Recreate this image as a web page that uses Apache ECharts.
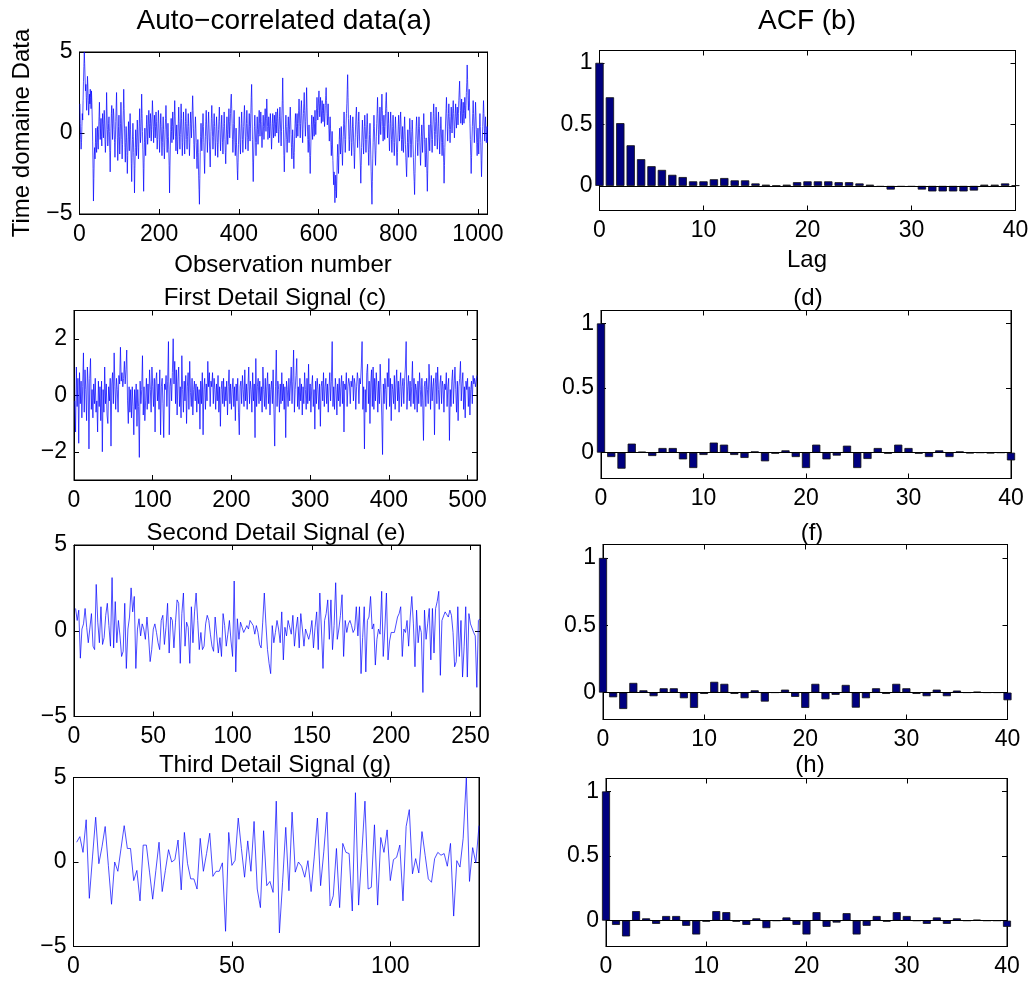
<!DOCTYPE html>
<html>
<head>
<meta charset="utf-8">
<script src="https://cdn.jsdelivr.net/npm/echarts@6/dist/echarts.min.js"></script>
<style>
  html, body { margin: 0; padding: 0; background: #fff; }
  #chart { width: 1034px; height: 982px; }
</style>
</head>
<body>
<div id="chart"></div>
<script>
// (a) auto-correlated series, 1024 samples
const autoCorrelated = [
  1.8,0.6,-0.4,-1.0,-0.6,0.4,1.2,0.8,2.0,3.2,4.1,5.0,4.3,3.4,2.6,3.0,2.2,1.4,2.3,3.5,2.9,2.0,1.1,1.6,2.4,1.8,2.7,2.2,1.5,2.6,1.9,0.8,
  -0.5,-2.2,-4.2,-2.8,-1.4,-0.9,-1.6,-0.6,0.3,-0.8,-1.2,-0.3,0.4,-0.6,-1.0,0.2,1.0,1.9,0.7,-0.4,0.3,0.9,-0.2,-0.8,0.5,1.2,0.4,-0.3,0.6,1.4,0.8,-0.5,
  -1.2,-0.4,0.8,2.5,1.3,0.2,-0.8,-0.3,0.6,1.0,0.1,-1.2,-2.4,-1.1,0.3,1.2,1.7,0.6,-0.4,0.8,1.5,1.1,0.2,-0.6,-1.5,-0.4,0.7,1.6,2.5,1.0,-0.3,-1.7,
  -0.8,0.4,1.1,-0.2,-1.3,-0.5,0.6,1.9,0.8,-0.4,-1.6,-0.7,0.5,1.4,2.7,1.5,0.3,-0.9,-1.8,-0.6,0.4,-0.3,-1.2,-2.5,-1.4,-0.2,0.7,-0.4,-1.1,0.3,1.2,0.2,
  -0.8,-1.9,-3.0,-1.5,-0.4,0.6,-0.2,-1.2,-2.0,-3.7,-2.2,-0.9,0.2,-0.7,-1.4,-0.3,0.8,0.2,-0.9,-1.6,-0.5,0.6,1.5,0.4,-0.6,-0.2,0.9,2.4,1.2,0.1,-1.0,-2.2,
  -3.6,-1.8,-0.6,0.3,-0.5,-1.4,-0.4,0.5,1.1,0.3,-0.7,-0.2,0.8,1.4,0.6,-0.3,0.4,1.2,0.6,-0.5,0.2,1.0,2.0,1.3,0.4,-0.6,0.3,1.1,0.5,-0.3,0.4,1.3,
  0.7,-0.2,-1.0,-0.4,0.6,1.4,0.8,-0.3,-1.2,-0.4,0.5,1.2,0.4,-0.5,-1.4,-0.6,0.3,1.0,0.2,-0.9,-1.6,-0.8,0.2,0.9,1.7,0.8,-0.4,-1.2,-0.3,0.6,-0.2,-1.0,
  -2.0,-3.7,-2.1,-0.8,0.2,0.9,0.1,-0.6,0.4,1.3,0.5,-0.4,0.3,1.1,2.0,1.0,-0.2,-1.1,-0.3,0.5,-0.4,-1.3,-0.5,0.6,1.6,0.7,-0.2,-1.0,-0.1,0.8,1.8,0.9,
  -0.3,-1.4,-0.6,0.5,1.3,0.4,-0.5,-1.3,-0.4,0.7,1.5,0.6,-0.4,-1.0,-0.2,0.6,1.2,0.4,-0.6,-1.4,-0.5,0.6,1.3,0.5,-0.3,0.5,1.4,2.3,1.4,0.3,-0.7,-1.6,
  -0.8,0.2,1.0,0.3,-0.6,-1.5,-2.2,-1.3,-0.4,-1.2,-2.6,-3.5,-4.4,-2.8,-1.2,-0.2,0.6,-0.3,-1.1,-0.4,0.5,1.2,0.4,-0.6,-1.6,-2.5,-1.3,-0.2,0.7,1.4,0.5,-0.4,
  -1.2,-0.3,0.6,1.3,0.5,-0.5,-1.3,-2.1,-1.0,0.1,0.9,1.7,0.8,-0.2,-1.0,-0.3,0.6,1.2,0.4,-0.5,-1.4,-0.6,0.4,1.0,0.3,-0.6,-1.5,-0.7,0.2,0.9,1.6,0.7,
  -0.3,-1.1,-0.4,0.5,1.1,0.3,-0.6,-1.3,-0.5,0.4,1.3,0.6,-0.4,-1.2,-1.9,-0.8,0.3,1.0,0.2,-0.7,-0.1,0.8,1.5,0.7,-0.3,0.4,1.2,2.1,2.4,1.5,0.6,-0.4,
  -1.2,-0.5,0.6,1.4,0.5,-0.6,-1.4,-0.7,0.3,-0.6,-1.5,-2.3,-2.9,-1.8,-0.7,0.2,1.0,0.3,-0.6,-1.3,-0.4,0.6,1.3,0.5,-0.4,-1.2,-0.5,0.4,1.1,1.7,0.8,-0.2,
  -1.0,-0.3,0.6,1.4,0.6,-0.3,-1.1,-0.4,0.5,1.2,0.4,-0.5,0.3,1.2,2.2,3.0,1.6,-0.4,-1.8,-3.0,-1.6,-0.5,0.4,1.1,0.3,-0.6,-1.4,-0.6,0.3,1.0,0.2,-0.7,
  -0.1,0.8,1.4,0.6,-0.2,0.5,1.3,0.7,-0.2,-0.9,-0.3,0.5,1.1,0.4,-0.4,0.3,1.0,1.5,0.8,0.1,0.9,2.1,1.3,0.4,-0.4,0.3,1.0,0.5,-0.3,0.4,1.2,0.6,
  -0.2,-1.0,-0.3,0.6,1.2,0.5,-0.3,0.4,1.1,0.6,-0.2,0.5,1.3,0.7,0.0,0.8,1.5,0.9,0.1,-0.6,0.2,1.0,1.6,0.8,0.0,-0.8,0.1,1.1,2.0,3.4,1.8,0.2,
  -1.4,-2.4,-1.3,-0.3,0.5,1.1,0.4,-0.4,-1.2,-0.5,0.4,1.0,0.3,-0.6,0.2,1.0,1.6,0.8,-0.1,-0.9,-1.6,-0.7,0.2,-0.6,-1.4,-2.2,-1.2,-0.2,0.6,1.2,0.5,-0.3,
  0.4,1.2,0.6,-0.2,0.6,1.4,2.1,1.3,0.4,-0.3,0.6,1.5,2.0,1.1,0.2,-0.6,0.3,1.2,1.8,2.5,1.4,0.5,-0.2,0.7,1.6,2.8,1.6,0.5,-0.4,-1.2,-0.4,0.5,
  -0.5,-1.5,-2.5,-1.4,-0.3,0.5,1.1,0.4,-0.4,0.3,1.0,0.5,-0.2,0.6,1.4,0.7,-0.1,0.7,1.5,2.2,1.6,0.8,1.4,2.1,2.6,1.8,1.0,1.6,2.2,1.4,0.6,1.3,
  2.0,1.4,0.7,1.2,1.8,1.1,0.4,1.0,1.7,2.3,2.8,2.0,1.2,0.5,1.1,1.8,1.0,0.2,-0.5,0.3,1.0,0.3,-0.6,-1.4,-0.7,0.1,-0.8,-1.7,-2.5,-3.2,-2.4,-3.4,
  -4.3,-3.6,-2.6,-3.1,-4.0,-2.7,-1.5,-0.7,-1.6,-2.5,-1.4,-0.4,0.3,-0.5,-1.3,-0.6,0.4,-0.3,-1.2,-2.0,-1.1,-0.2,0.6,1.3,0.5,-0.4,-1.2,-0.4,0.5,1.2,1.8,2.7,
  3.6,2.2,0.9,-0.2,-1.1,-0.4,0.5,1.1,0.3,-0.6,-1.4,-0.6,0.3,1.0,0.4,-0.5,-1.2,-2.2,-1.3,-0.3,0.5,1.2,1.6,0.8,-0.1,-0.9,-0.2,0.7,1.3,0.5,-0.5,-1.3,
  -2.1,-3.1,-2.0,-0.9,0.0,0.8,0.2,-0.6,-1.3,-0.5,0.4,1.1,0.4,-0.4,-1.2,-0.4,0.5,1.2,0.5,-0.4,-1.2,-2.0,-1.0,-0.1,0.6,-0.3,-1.3,-2.4,-3.4,-4.4,-3.0,-1.6,
  -0.6,0.3,1.1,0.4,-0.5,-1.3,-2.0,-1.1,-0.2,0.6,1.3,2.2,1.2,0.2,-0.7,-0.1,0.8,1.6,0.8,-0.1,0.7,1.6,2.4,1.4,0.4,-0.5,0.3,1.1,0.4,-0.4,0.4,1.2,
  2.0,2.5,1.5,0.5,-0.3,0.5,1.3,0.6,-0.3,-1.1,-0.3,0.6,1.3,0.5,-0.4,-1.2,-0.5,0.4,1.1,0.3,-0.6,-1.4,-0.6,0.2,1.0,0.3,-0.5,-1.3,-2.0,-1.2,-0.3,0.5,
  1.1,0.4,-0.5,-0.1,0.8,1.3,0.5,-0.4,-1.1,-0.4,0.4,-0.4,-1.2,-0.5,0.3,1.0,0.2,-0.7,-1.5,-2.1,-2.7,-1.6,-0.6,0.2,-0.6,-1.5,-0.7,0.2,0.9,0.2,-0.7,-1.5,
  -0.8,0.1,0.8,0.2,-0.7,-1.5,-2.4,-3.0,-3.8,-2.5,-1.3,-0.4,0.4,1.0,0.3,-0.6,-1.4,-0.6,0.3,1.0,0.4,-0.5,-1.3,-2.0,-1.1,-0.2,0.5,-0.3,-1.2,-0.4,0.5,1.2,
  0.5,-0.4,-1.3,-2.1,-1.2,-0.3,-1.3,-2.5,-3.6,-2.3,-1.1,-0.2,0.5,-0.3,-1.1,-0.3,0.6,1.3,0.5,-0.4,-1.2,-0.4,0.5,1.2,1.8,1.0,0.1,-0.8,-0.1,0.7,1.6,0.8,
  -0.1,-1.0,-0.3,0.6,1.3,0.4,-0.5,-1.3,-0.5,0.3,1.0,0.3,-0.6,-1.4,-0.6,0.2,-0.7,-1.8,-3.1,-2.0,-0.9,0.0,0.8,1.5,2.2,1.2,0.3,-0.5,0.4,1.2,1.8,1.0,
  0.2,-0.6,0.2,1.0,1.6,0.8,0.0,0.8,1.5,2.0,1.2,0.4,-0.3,0.5,1.2,1.8,1.0,0.3,1.0,1.6,1.1,0.5,1.2,2.0,2.6,3.2,2.2,1.4,0.6,1.3,2.1,1.3,
  0.5,1.2,1.9,1.2,0.6,1.4,2.2,1.6,0.9,1.7,2.5,3.1,4.2,3.3,2.3,1.4,2.0,2.7,1.6,0.6,-0.4,-1.4,-2.5,-1.5,-0.5,0.4,1.2,2.0,1.2,0.3,-0.6,0.2,
  1.0,1.9,1.1,0.2,-0.7,-1.4,-0.6,0.3,-0.5,-1.3,-0.4,0.5,1.2,0.4,-0.6,-1.7,-2.7,-1.6,-0.5,0.4,1.2,2.0,1.2,0.3,-0.5,0.3,1.0,0.3,-0.6,-0.2,0.4,-0.6
];

// (c) first detail signal, 512 samples
const firstDetail = [
  -0.2,-1.3,1.0,-0.4,0.6,-1.7,0.8,-0.3,0.5,-0.8,0.3,1.5,-0.6,0.9,0.2,-0.9,1.0,0.4,-1.9,0.6,1.3,-0.5,0.2,-0.8,0.4,-0.3,0.6,-0.6,-0.2,-1.3,0.5,-0.4,
  0.3,-0.9,0.5,-2.0,0.2,-0.6,1.0,-0.3,0.4,-0.7,-1.0,0.3,-0.2,0.6,-1.8,0.4,0.8,-0.3,1.5,0.3,-0.5,0.6,0.2,-0.6,0.7,0.4,1.7,0.5,0.8,0.3,0.6,1.2,
  0.4,0.9,1.6,-0.2,-1.0,0.3,-0.6,0.2,-0.8,0.3,-0.4,-1.4,0.2,-0.5,0.4,-1.1,0.2,-0.4,-2.2,0.5,-0.3,0.2,1.4,-0.7,0.3,-0.9,-0.2,0.6,-0.5,0.4,-0.3,0.9,
  0.2,-0.6,1.0,0.3,-0.4,0.6,-1.3,0.5,0.8,-0.2,0.4,-0.5,0.9,-1.4,0.3,0.6,-0.3,-1.5,0.4,0.2,0.7,-0.4,0.5,1.9,-1.4,0.3,0.6,-0.2,0.8,2.0,0.4,1.2,
  -0.3,0.9,-0.7,0.5,1.0,-0.4,0.3,-0.8,1.4,0.2,-0.6,0.5,-0.2,0.7,-1.0,0.3,0.8,-0.5,1.2,0.1,-0.4,0.6,-0.7,0.2,0.5,-0.2,0.4,-0.6,0.3,-0.3,0.2,-1.2,
  0.5,-0.3,0.8,-1.4,0.2,0.6,-0.5,0.4,-0.2,1.2,0.3,0.8,-0.4,0.5,0.3,0.8,-0.3,0.6,0.2,-0.5,0.4,-0.2,0.7,-0.6,0.3,-1.1,0.2,0.5,-0.3,0.6,-0.4,0.3,
  -0.2,0.5,-0.7,0.3,0.9,-0.3,0.4,-0.5,0.2,0.6,-0.4,0.3,-0.9,0.4,-0.2,0.6,-0.6,-1.4,0.3,0.5,-0.3,0.7,0.2,-0.4,0.9,-0.2,0.4,-0.5,0.3,1.0,-0.3,0.5,
  0.2,-0.6,0.8,-0.2,0.4,-1.5,1.3,-0.4,0.3,0.6,-0.3,0.5,-0.2,0.3,-0.6,1.0,0.2,-0.4,0.6,-0.5,0.3,0.8,-0.3,0.4,-0.7,0.2,0.5,-0.3,0.9,-0.5,-1.8,0.3,
  1.6,-0.4,0.5,0.2,-0.6,0.4,-0.3,0.8,-0.2,0.4,-0.5,0.3,-1.5,0.5,0.2,-0.4,0.6,-0.2,0.4,1.0,-0.3,0.5,1.6,-0.6,0.2,0.7,1.3,-0.4,0.3,-0.5,0.6,-0.2,
  0.4,-0.7,0.3,-0.3,0.8,0.2,-0.5,0.6,-0.3,1.1,-0.2,0.4,-0.6,0.3,0.7,-0.4,0.2,-1.2,0.5,-0.3,0.6,0.2,-0.5,0.4,-1.1,0.3,0.5,-0.2,0.8,-0.4,0.3,0.6,
  -0.3,0.4,-0.6,0.3,0.8,-0.2,0.5,1.9,-0.4,0.3,-0.5,0.6,0.2,-0.7,0.4,-0.2,0.6,-0.4,0.3,0.7,-0.3,0.5,-1.3,0.4,0.2,0.8,-0.4,0.3,0.6,0.4,-0.3,0.5,
  0.3,0.7,-0.2,0.6,0.4,-0.5,0.3,0.8,0.5,-0.3,0.6,0.4,1.0,1.9,-0.5,0.3,-1.9,0.2,-0.6,0.8,1.1,-0.3,0.5,-1.0,0.4,0.9,-0.4,1.0,-0.5,0.6,-0.2,0.8,
  0.3,-0.6,0.5,-0.3,1.1,0.2,-0.7,-2.1,0.4,-0.3,0.6,0.2,-0.5,0.8,0.3,1.3,-0.4,0.6,-0.9,0.4,0.2,-0.3,0.7,-0.5,0.4,0.9,-0.2,0.5,-0.6,0.3,0.8,-0.4,
  0.3,0.6,-0.3,0.5,1.0,1.9,-0.5,0.3,0.7,-0.2,0.5,-0.4,0.3,1.2,-0.3,0.6,-0.5,0.4,0.2,-0.6,0.5,-0.3,0.8,0.2,-0.4,0.6,-0.2,-1.6,0.3,0.5,-0.4,0.6,
  0.2,-0.3,1.1,0.4,-0.5,0.7,-0.2,0.3,0.6,-1.4,0.4,0.8,-0.3,1.0,0.2,-0.5,0.4,0.7,-0.3,0.5,0.3,-0.6,0.4,0.2,0.8,-0.4,0.3,0.6,-1.6,0.2,-0.4,0.5,
  0.9,-0.3,0.4,1.0,0.2,-0.6,0.5,-0.9,0.3,0.6,1.2,-0.2,0.4,0.8,-0.5,0.3,-0.8,0.5,0.2,0.6,-0.4,0.3,-0.7,0.2,0.5,-0.3,0.7,0.4,0.6,0.3,0.5,0.7
];

// (e) second detail signal, 256 samples
const secondDetail = [
  1.3,0.6,1.2,-1.6,0.1,0.4,1.3,0.2,-0.7,-0.8,1.0,
  -0.9,-1.1,2.7,0.5,-0.7,1.4,-0.8,-0.4,0.9,1.6,0.3,-0.9,
  3.1,-1.0,1.7,-0.7,0.6,-0.3,-1.5,-1.2,1.6,-2.2,0.1,
  0.8,2.5,1.1,2.0,-2.2,0.1,0.7,-0.3,0.4,0.1,-0.5,0.8,
  -0.3,-1.8,-1.1,0.1,0.4,-0.1,-0.7,-1.1,0.6,0.9,-0.8,0.2,
  1.6,-1.3,0.8,0.6,-1.0,0.5,1.8,1.6,-1.9,1.0,2.2,
  -0.9,0.5,0.2,-1.9,1.4,-0.7,1.1,2.2,0.6,-1.1,-0.1,-1.1,
  -0.9,0.4,0.9,0.6,-0.2,-0.9,-1.2,0.8,0.8,-1.3,-0.4,-1.5,
  1.0,0.3,-0.9,-0.2,0.6,-0.6,-1.5,2.9,-2.4,0.7,-0.5,
  0.5,0.2,-0.1,0.0,0.3,0.1,0.6,0.7,0.3,-0.2,0.3,-0.1,
  -0.8,-1.0,0.5,2.2,0.4,-1.1,-1.9,-2.5,0.3,-0.7,-0.1,
  0.6,0.1,-0.7,1.1,-1.7,0.2,-0.3,0.6,0.2,-0.2,0.9,-0.9,
  0.1,0.8,-1.0,1.0,0.1,-0.9,0.1,0.1,-0.5,-0.1,0.6,
  -1.0,0.2,1.1,-1.1,2.2,0.1,-2.2,0.6,1.0,1.8,-0.5,1.8,
  -1.1,0.3,2.8,-0.5,0.1,0.9,2.1,-1.5,0.6,-0.1,0.4,
  0.6,0.3,-0.1,0.1,1.4,-0.3,1.4,-2.5,-0.4,1.4,-2.4,0.6,
  0.8,2.0,0.1,0.4,-2.0,-0.5,0.1,-0.2,2.3,-1.5,0.1,
  2.2,-1.7,-0.6,-0.1,0.0,-0.1,-0.2,0.8,1.0,1.4,-1.5,0.1,
  -0.1,0.6,-0.9,0.8,2.0,0.4,-2.1,1.2,-0.7,0.3,-0.1,
  -3.6,1.2,-0.5,0.4,1.3,-1.7,1.3,-1.3,1.3,1.7,2.3,-2.6,
  0.6,0.6,1.1,1.2,0.8,1.2,0.9,-0.1,-2.1,-1.8,
  1.4,-1.5,0.6,-2.7,-0.9,1.4,-2.7,1.0,0.4,0.3,
  -0.1,-0.3,-3.3,0.6,0.7
];

// (g) third detail signal, 128 samples
const thirdDetail = [
  1.17,1.5,0.57,2.5,-2.15,0.3,2.65,-0.1,0.9,2.1,
  -0.2,-2.5,0.0,-0.55,0.8,2.15,0.8,0.8,-1.1,-0.5,
  -2.3,1.0,1.0,-0.6,-2.2,-0.5,1.17,-1.75,-0.5,0.73,
  0.0,0.14,1.3,-1.65,1.75,-0.1,-1.0,-1.0,-1.6,1.4,
  -0.55,0.5,1.7,-0.85,-0.55,-0.55,-0.05,-4.1,1.75,-0.2,
  0.1,2.6,0.8,-0.9,1.25,-0.55,2.4,-1.6,-2.7,1.85,
  -1.4,-1.15,-1.8,3.6,-4.2,-1.2,2.05,-1.7,2.95,-0.6,
  0.0,-0.25,-0.9,0.08,-1.75,0.3,2.6,-1.4,0.6,2.95,
  -2.6,-2.0,0.8,-2.7,1.1,0.57,0.5,-2.9,4.1,-2.55,
  0.5,3.6,-1.6,-1.5,2.2,-2.55,1.45,0.57,1.9,-1.1,
  0.14,0.28,1.0,-2.3,2.1,3.1,-0.7,0.2,-0.65,1.8,
  0.4,-1.0,-1.2,0.2,0.57,0.4,0.5,-0.25,1.1,-3.2,
  0.08,-0.3,1.4,5.0,-1.15,0.85,-0.05,2.15
];

// ACF values, lags 0..40
const lags = [0,1,2,3,4,5,6,7,8,9,10,11,12,13,14,15,16,17,18,19,20,21,22,23,24,25,26,27,28,29,30,31,32,33,34,35,36,37,38,39,40];
const acfB = [1, 0.72, 0.51, 0.33, 0.217, 0.16, 0.13, 0.09, 0.072, 0.037, 0.037, 0.054, 0.064, 0.045, 0.045, 0.02, 0.01, 0.002, 0.01, 0.03,
  0.037, 0.037, 0.037, 0.03, 0.03, 0.02, 0.01, -0.008, -0.03, -0.008, -0.008, -0.03, -0.045, -0.045, -0.045, -0.045, -0.038, 0.01, 0.01, 0.02, 0.005];
const acfD = [1, -0.034, -0.124, 0.07, 0.008, -0.026, 0.036, 0.036, -0.052, -0.119, -0.018, 0.078, 0.062, -0.018, -0.041, 0.01, -0.067, -0.008, 0.018, -0.034,
  -0.119, 0.062, -0.052, -0.023, 0.054, -0.119, -0.049, 0.036, -0.008, 0.062, 0.036, -0.008, -0.034, 0.018, -0.034, 0.01, -0.005, 0, -0.005, 0, -0.06];
const acfF = [1, -0.035, -0.122, 0.072, 0.017, -0.027, 0.032, 0.032, -0.042, -0.114, -0.01, 0.08, 0.065, -0.01, -0.042, 0.017, -0.067, 0, 0.022, -0.032,
  -0.114, 0.065, -0.05, -0.017, 0.057, -0.112, -0.042, 0.032, -0.01, 0.065, 0.032, -0.01, -0.027, 0.022, -0.027, 0.015, 0, 0.007, 0, 0, -0.057];
const acfH = [1, -0.033, -0.122, 0.074, 0.018, -0.025, 0.036, 0.036, -0.04, -0.107, -0.008, 0.074, 0.066, -0.008, -0.033, 0.018, -0.058, 0, 0.025, -0.033,
  -0.107, 0.066, -0.048, -0.015, 0.058, -0.107, -0.04, 0.036, -0.008, 0.066, 0.036, 0, -0.025, 0.025, -0.025, 0.018, 0, 0.008, 0, 0, -0.048];

// tick labels
const ticksA = [0, 200, 400, 600, 800, 1000];
const ticksC = [0, 100, 200, 300, 400, 500];
const ticksE = [0, 50, 100, 150, 200, 250];
const ticksG = [0, 50, 100];
const ticksLag = [0, 10, 20, 30, 40];
const ticksY5 = [-5, 0, 5];
const ticksY2 = [-2, 0, 2];
const ticksAcf = [0, 0.5, 1];

const font = '"Liberation Sans", Arial, sans-serif';
const lineColor = "#0000ff";
const barColor = "#00007f";

const panels = [
  { box: [79.5, 52, 408, 162], x: [0, 1024], y: [-5, 5], xt: ticksA, yt: ticksY5, values: autoCorrelated },
  { box: [599.5, 50.5, 416, 160], x: [0, 40], y: [-0.2, 1.1], xt: ticksLag, yt: ticksAcf, acf: acfB },
  { box: [74, 310.5, 403, 169.5], x: [0, 512], y: [-3, 3], xt: ticksC, yt: ticksY2, values: firstDetail },
  { box: [601, 310.5, 410, 168], x: [0, 40], y: [-0.2, 1.1], xt: ticksLag, yt: ticksAcf, acf: acfD },
  { box: [74, 545, 406, 171.5], x: [0, 256], y: [-5, 5], xt: ticksE, yt: ticksY5, values: secondDetail },
  { box: [603, 544.5, 404.5, 175], x: [0, 40], y: [-0.2, 1.1], xt: ticksLag, yt: ticksAcf, acf: acfF },
  { box: [73.5, 777.5, 405.5, 169], x: [0, 128], y: [-5, 5], xt: ticksG, yt: ticksY5, values: thirdDetail },
  { box: [606, 778.5, 401, 168], x: [0, 40], y: [-0.2, 1.1], xt: ticksLag, yt: ticksAcf, acf: acfH },
];

const texts = [
  ["Auto\u2212correlated data(a)", 284, 21, 28, 0],
  ["ACF (b)", 807, 21, 28, 0],
  ["Observation number", 283, 265, 24, 0],
  ["Lag", 807, 260, 24, 0],
  ["Time domaine Data", 22, 133, 24, Math.PI / 2],
  ["First Detail Signal (c)", 275, 298, 24, 0],
  ["(d)", 808, 298, 24, 0],
  ["Second Detail Signal (e)", 276, 533, 24, 0],
  ["(f)", 812, 533, 24, 0],
  ["Third Detail Signal (g)", 275, 765, 24, 0],
  ["(h)", 810, 765, 24, 0],
];

const fmt = (v) => String(v).replace("-", "\u2212");

const axisBase = (i, range, ticks, position, showLabel, margin) => ({
  type: "value",
  gridIndex: i,
  position: position,
  min: range[0],
  max: range[1],
  axisLine: { show: true, onZero: false, lineStyle: { color: "#000", width: 1 } },
  axisTick: { show: true, inside: true, length: 5, customValues: ticks, lineStyle: { color: "#000", width: 1 } },
  axisLabel: {
    show: showLabel,
    customValues: ticks,
    formatter: fmt,
    color: "#000",
    fontSize: 23,
    fontFamily: font,
    margin: margin,
  },
  splitLine: { show: false },
});

const grids = [];
const xAxes = [];
const yAxes = [];
const series = [];

panels.forEach((p, i) => {
  grids.push({
    left: p.box[0],
    top: p.box[1],
    width: p.box[2],
    height: p.box[3],
    show: true,
    borderColor: "#000",
    borderWidth: 1,
    containLabel: false,
    outerBoundsMode: "none",
  });
  xAxes.push(axisBase(i, p.x, p.xt, "bottom", true, 9));
  xAxes.push(axisBase(i, p.x, p.xt, "top", false, 8));
  yAxes.push(axisBase(i, p.y, p.yt, "left", true, 7));
  yAxes.push(axisBase(i, p.y, p.yt, "right", false, 8));

  if (p.values) {
    series.push({
      type: "line",
      xAxisIndex: 2 * i,
      yAxisIndex: 2 * i,
      data: p.values.map((v, k) => [k + 1, v]),
      symbol: "none",
      showSymbol: false,
      clip: true,
      silent: true,
      lineStyle: { color: lineColor, width: 0.7 },
    });
  } else {
    series.push({
      type: "bar",
      xAxisIndex: 2 * i,
      yAxisIndex: 2 * i,
      data: lags.map((l, k) => [l, p.acf[k]]),
      barWidth: "80%",
      clip: true,
      silent: true,
      itemStyle: { color: barColor, borderColor: "#111", borderWidth: 0.8 },
      markLine: {
        silent: true,
        symbol: "none",
        label: { show: false },
        lineStyle: { color: "#000", width: 1, type: "solid" },
        data: [{ yAxis: 0 }],
      },
    });
  }
});

const graphics = texts.map((t) => ({
  type: "text",
  x: t[1],
  y: t[2],
  rotation: t[4],
  style: {
    text: t[0],
    fontSize: t[3],
    fontFamily: font,
    fill: "#000",
    align: "center",
    verticalAlign: "middle",
  },
}));

const option = {
  animation: false,
  backgroundColor: "#fff",
  grid: grids,
  xAxis: xAxes,
  yAxis: yAxes,
  series: series,
  graphic: graphics,
};

const myChart = echarts.init(document.getElementById("chart"), null, { renderer: "canvas" });
myChart.setOption(option);
</script>
</body>
</html>
